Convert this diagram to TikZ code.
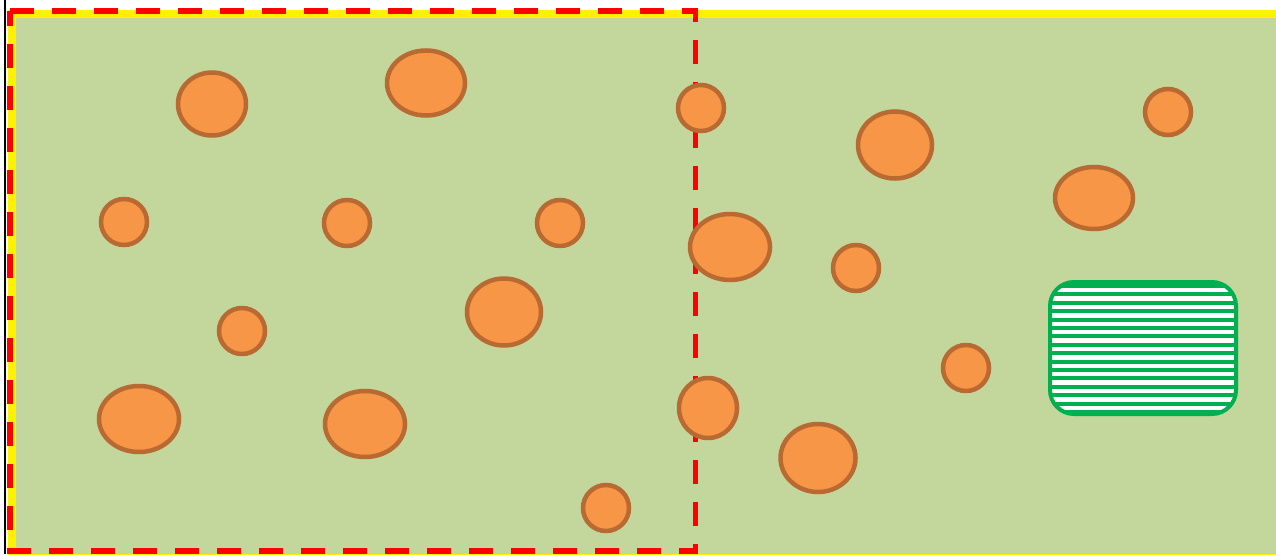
\documentclass[tikz,border=0pt]{standalone}
\usetikzlibrary{shapes.geometric}

\definecolor{fieldgreen}{HTML}{C3D69B}
\definecolor{cellfill}{HTML}{F79646}
\definecolor{cellline}{HTML}{B86A32}
\definecolor{zonegreen}{HTML}{00B050}

\tikzset{
  cell/.style={ellipse, draw=cellline, fill=cellfill, line width=4.5pt, inner sep=0pt},
  zone/.style={draw=red, line width=5.5pt, dash pattern=on 24pt off 18pt},
}

\begin{document}
\begin{tikzpicture}[x=1pt, y=-1pt]
        \useasboundingbox (0,0) rectangle (1276,554);

        % Field
        \fill[white] (0,0) rectangle (1276,554);
        \draw[yellow, line width=8pt, fill=fieldgreen] (12,14) rectangle (1300,558);
        \draw[black, line width=2pt] (5,0) -- (5,554);

        % Dashed zone
        \coordinate (z1) at (10,11);
        \coordinate (z2) at (695.5,11);
        \coordinate (z3) at (695.5,551);
        \coordinate (z4) at (10,551);
        \draw[zone] (z1) -- (z2) -- (z3) -- (z4) -- cycle;

        % Cells
        \node[cell, minimum width=68, minimum height=63] (c1) at (212,104) {};
        \node[cell, minimum width=78, minimum height=65] (c2) at (426,83) {};
        \node[cell, minimum width=46, minimum height=46] (c3) at (124,222) {};
        \node[cell, minimum width=46, minimum height=46] (c4) at (347,223) {};
        \node[cell, minimum width=46, minimum height=46] (c5) at (560,223) {};
        \node[cell, minimum width=74, minimum height=67] (c6) at (504,312) {};
        \node[cell, minimum width=46, minimum height=46] (c7) at (242,331) {};
        \node[cell, minimum width=80, minimum height=66] (c8) at (139,419) {};
        \node[cell, minimum width=80, minimum height=66] (c9) at (365,424) {};
        \node[cell, minimum width=46, minimum height=46] (c10) at (606,508) {};
        \node[cell, minimum width=46, minimum height=46] (c11) at (701,108) {};
        \node[cell, minimum width=74, minimum height=67] (c12) at (895,145) {};
        \node[cell, minimum width=46, minimum height=46] (c13) at (1168,112) {};
        \node[cell, minimum width=78, minimum height=62] (c14) at (1094,198) {};
        \node[cell, minimum width=80, minimum height=66] (c15) at (730,247) {};
        \node[cell, minimum width=46, minimum height=46] (c16) at (856,268) {};
        \node[cell, minimum width=46, minimum height=46] (c17) at (966,368) {};
        \node[cell, minimum width=58, minimum height=60] (c18) at (708,408) {};
        \node[cell, minimum width=75, minimum height=68] (c19) at (818,458) {};

        % Striped area
        \begin{scope}
          \clip[rounded corners=24pt] (1050,282) rectangle (1236,414);
          \fill[white] (1050,282) rectangle (1236,414);
          \foreach \y in {0,...,15}
            \draw[zonegreen, line width=4pt] (1045,286+8.4*\y) -- (1240,286+8.4*\y);
        \end{scope}
        \draw[zonegreen, line width=4pt, rounded corners=24pt] (1050,282) rectangle (1236,414);
    \end{tikzpicture}
\end{document}
